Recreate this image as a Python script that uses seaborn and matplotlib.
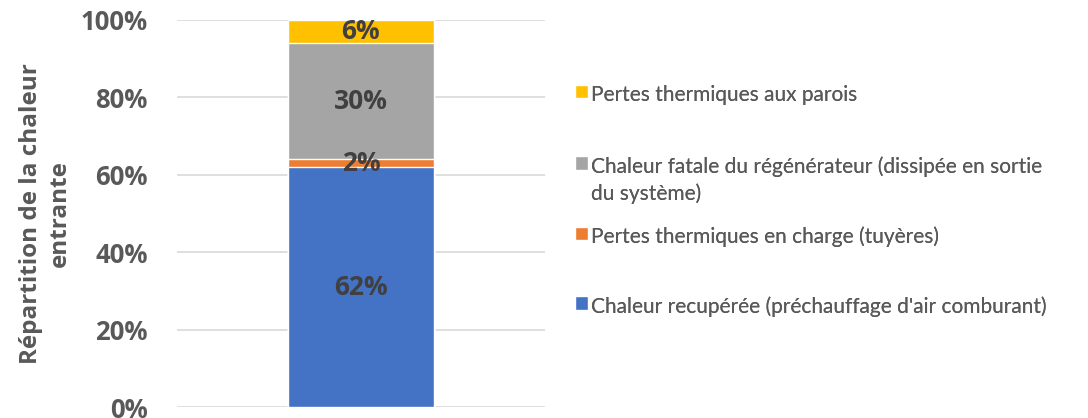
import matplotlib
matplotlib.use('Agg')
import matplotlib.pyplot as plt
import seaborn as sns
import pandas as pd
import numpy as np

# Chart data (percent of incoming heat)
categories = ['Bilan']
series = ["Chaleur recupérée (préchauffage d'air comburant)",
          'Pertes thermiques en charge (tuyères)',
          'Chaleur fatale du régénérateur (dissipée en sortie\ndu système)',
          'Pertes thermiques aux parois']
values = [62, 2, 30, 6]
colors = ['#4472C4', '#ED7D31', '#A5A5A5', '#FFC000']
y_ticks = [0, 20, 40, 60, 80, 100]
y_label = 'Répartition de la chaleur\nentrante'

sns.set_theme(style='white')
plt.rcParams['font.family'] = ['Lato', 'DejaVu Sans']
bold_font = ['Open Sans', 'DejaVu Sans']

fig = plt.figure(figsize=(10.88, 4.18), dpi=100)
ax = fig.add_axes([0.1627, 0.0263, 0.338, 0.926])

cum = np.cumsum(values)
# draw from the top of the stack down so each segment shows its own slice
for i in range(len(values) - 1, -1, -1):
    df = pd.DataFrame({'cat': categories, 'val': [cum[i]]})
    sns.barplot(data=df, x='cat', y='val', color=colors[i], saturation=1,
                width=0.397, ax=ax, label=series[i], zorder=2)
handles, labels = ax.get_legend_handles_labels()
if ax.get_legend() is not None:
    ax.get_legend().remove()

ax.set_xlim(-0.5, 0.5)
ax.set_ylim(0, 100)
ax.set_yticks(y_ticks)
ax.set_yticklabels([f'{t}%' for t in y_ticks], fontsize=18.5, family=bold_font,
                   fontweight='bold', color='#595959')
ax.tick_params(axis='y', length=0, pad=21)
ax.set_xticks([])
ax.set_xlabel('')
ax.set_ylabel(y_label, fontsize=17.5, fontweight='bold', family=bold_font,
              color='#595959', linespacing=1.3)
ax.yaxis.set_label_coords(-0.285, 0.5)
for s in ax.spines.values():
    s.set_visible(False)
ax.yaxis.grid(True, color='#D9D9D9', linewidth=1.2, zorder=0)
ax.set_axisbelow(True)

# value labels centered in each segment
bottoms = cum - np.array(values)
for v, b in zip(values, bottoms):
    ax.text(0, b + v / 2, f'{v}%', ha='center', va='center', fontsize=19,
            fontweight='bold', family=bold_font, color='#404040', zorder=3)

# one legend per entry so the uneven Excel-style spacing can be kept
legend_y = [0.773, 0.569, 0.433, 0.267]  # figure coords, top to bottom
for h, lab, y in zip(handles, labels, legend_y):
    leg = fig.legend([h], [lab], loc='center left', bbox_to_anchor=(0.519, y),
                     frameon=False, fontsize=15, handlelength=0.62,
                     handleheight=0.62, handletextpad=0.12, borderpad=0,
                     labelcolor='#595959')
    for t in leg.get_texts():
        t.set_linespacing(1.4)
    # keep the marker level with the first line of a wrapped label
    for col in leg._legend_handle_box.get_children():
        for row in col.get_children():
            row.align = 'top'
    fig.add_artist(leg)

fig.savefig('out.png', dpi=100, facecolor='white')
